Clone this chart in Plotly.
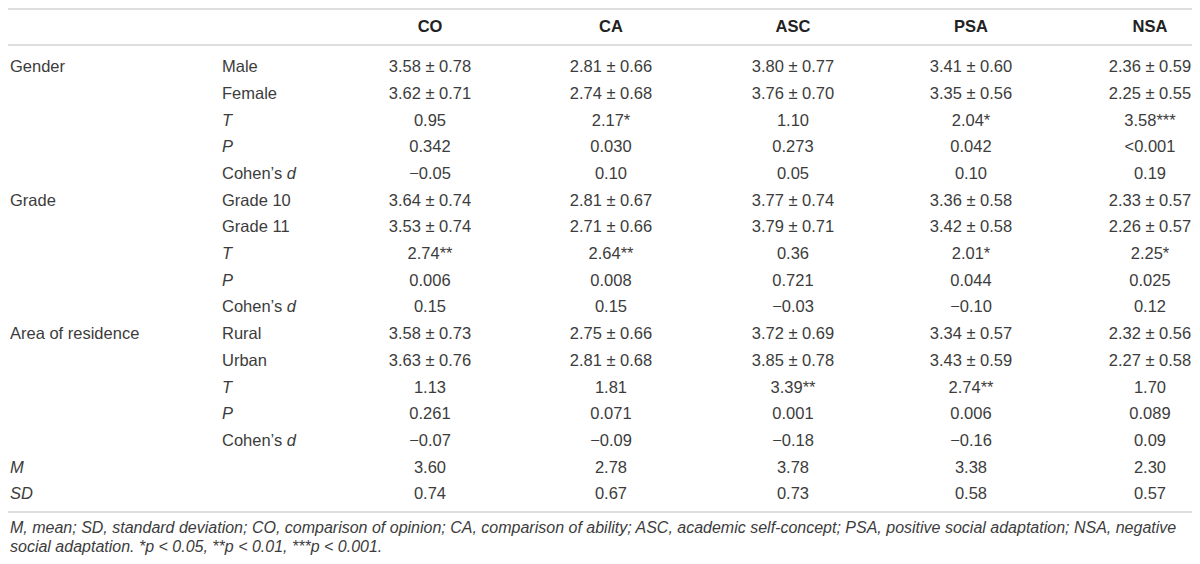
import plotly.graph_objects as go

# cabeçalho e linhas da tabela
colunas = ["CO", "CA", "ASC", "PSA", "NSA"]
grupos = ["Gender", "", "", "", "", "Grade", "", "", "", "", "Area of residence", "", "", "", "", "<i>M</i>", "<i>SD</i>"]
subgrupos = ["Male", "Female", "<i>T</i>", "<i>P</i>", "Cohen’s <i>d</i>",
             "Grade 10", "Grade 11", "<i>T</i>", "<i>P</i>", "Cohen’s <i>d</i>",
             "Rural", "Urban", "<i>T</i>", "<i>P</i>", "Cohen’s <i>d</i>",
             "", ""]

co = ["3.58 ± 0.78", "3.62 ± 0.71", "0.95", "0.342", "−0.05",
      "3.64 ± 0.74", "3.53 ± 0.74", "2.74**", "0.006", "0.15",
      "3.58 ± 0.73", "3.63 ± 0.76", "1.13", "0.261", "−0.07",
      "3.60", "0.74"]
ca = ["2.81 ± 0.66", "2.74 ± 0.68", "2.17*", "0.030", "0.10",
      "2.81 ± 0.67", "2.71 ± 0.66", "2.64**", "0.008", "0.15",
      "2.75 ± 0.66", "2.81 ± 0.68", "1.81", "0.071", "−0.09",
      "2.78", "0.67"]
asc = ["3.80 ± 0.77", "3.76 ± 0.70", "1.10", "0.273", "0.05",
       "3.77 ± 0.74", "3.79 ± 0.71", "0.36", "0.721", "−0.03",
       "3.72 ± 0.69", "3.85 ± 0.78", "3.39**", "0.001", "−0.18",
       "3.78", "0.73"]
psa = ["3.41 ± 0.60", "3.35 ± 0.56", "2.04*", "0.042", "0.10",
       "3.36 ± 0.58", "3.42 ± 0.58", "2.01*", "0.044", "−0.10",
       "3.34 ± 0.57", "3.43 ± 0.59", "2.74**", "0.006", "−0.16",
       "3.38", "0.58"]
nsa = ["2.36 ± 0.59", "2.25 ± 0.55", "3.58***", "&lt;0.001", "0.19",
       "2.33 ± 0.57", "2.26 ± 0.57", "2.25*", "0.025", "0.12",
       "2.32 ± 0.56", "2.27 ± 0.58", "1.70", "0.089", "0.09",
       "2.30", "0.57"]

nota = ["<i>M, mean; SD, standard deviation; CO, comparison of opinion; CA, comparison of ability; ASC, academic self-concept; PSA, positive social adaptation; NSA, negative</i>",
        "<i>social adaptation. *p &lt; 0.05, **p &lt; 0.01, ***p &lt; 0.001.</i>"]

fonte = "Liberation Sans, Arial, sans-serif"
cor = "#3c3c3c"
tam = 16.5

linhas_y = [68 + 26.7 * i for i in range(len(subgrupos))]
centros_x = [430, 611, 793, 971, 1150]
x_esq = 10

fig = go.Figure()

fig.add_trace(go.Scatter(x=[x_esq] * len(grupos), y=linhas_y, text=grupos, mode="text",
                         textposition="middle right", cliponaxis=False,
                         textfont=dict(family=fonte, size=tam, color=cor)))
fig.add_trace(go.Scatter(x=[222] * len(subgrupos), y=linhas_y, text=subgrupos, mode="text",
                         textposition="middle right",
                         textfont=dict(family=fonte, size=tam, color=cor)))

for cx, valores in zip(centros_x, [co, ca, asc, psa, nsa]):
    fig.add_trace(go.Scatter(x=[cx] * len(valores), y=linhas_y, text=valores, mode="text",
                             textposition="middle center", cliponaxis=False,
                             textfont=dict(family=fonte, size=tam, color=cor)))

fig.add_trace(go.Scatter(x=centros_x, y=[28] * len(colunas), text=colunas, mode="text",
                         textposition="middle center",
                         textfont=dict(family=fonte, size=tam, color="#222", weight="bold")))

fig.add_trace(go.Scatter(x=[x_esq, x_esq], y=[529, 548], text=nota, mode="text",
                         textposition="middle right", cliponaxis=False,
                         textfont=dict(family=fonte, size=16.0, color=cor)))

for y in [9, 45, 512]:
    fig.add_shape(type="line", x0=8, x1=1192, y0=y, y1=y,
                  line=dict(color="#dedede", width=2))

# a página tem margem de 8 px: a figura fica menor e os eixos usam as coordenadas da janela
fig.update_layout(
    width=1184, height=548,
    margin=dict(l=0, r=0, t=0, b=0),
    paper_bgcolor="white", plot_bgcolor="white",
    showlegend=False,
    xaxis=dict(range=[8, 1192], visible=False, fixedrange=True),
    yaxis=dict(range=[556, 8], visible=False, fixedrange=True),
)

fig.write_html("out.html")
